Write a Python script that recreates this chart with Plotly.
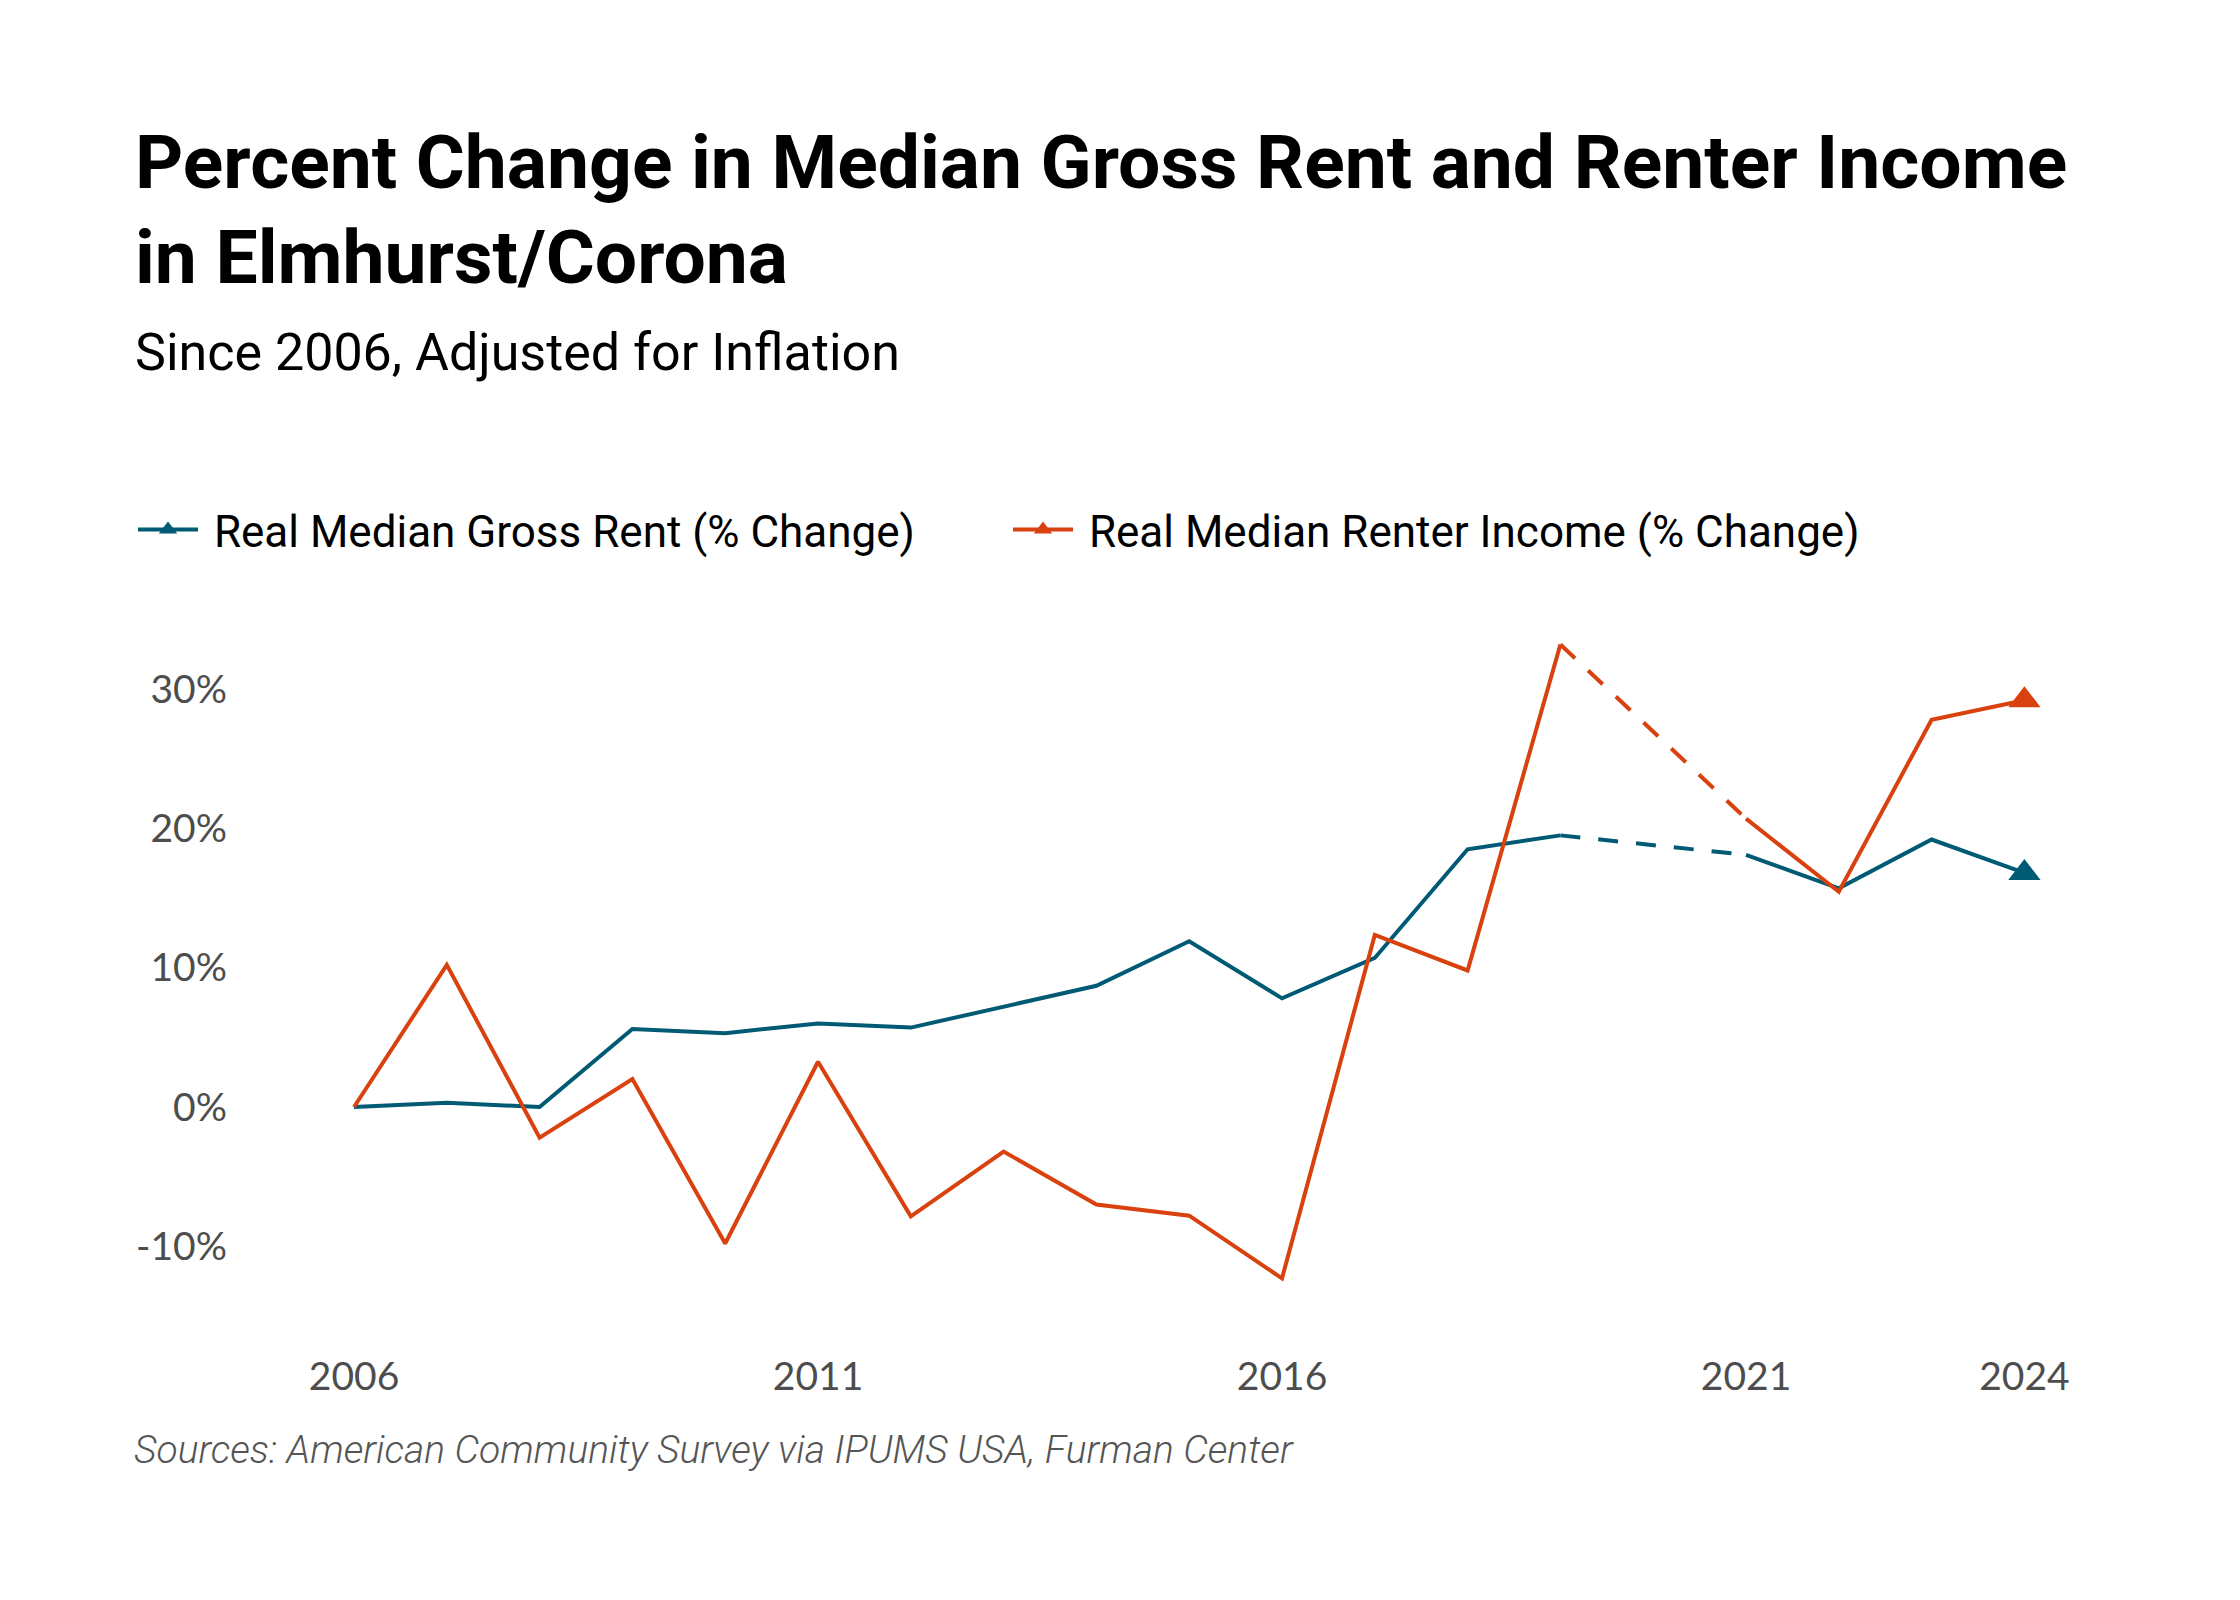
import plotly.graph_objects as go

# ---------------- data ----------------
years = [2006, 2007, 2008, 2009, 2010, 2011, 2012, 2013, 2014, 2015, 2016,
         2017, 2018, 2019, 2021, 2022, 2023, 2024]
rent_pct = [0.0, 0.3, 0.0, 5.6, 5.3, 6.0, 5.7, 7.2, 8.7, 11.9, 7.8,
            10.7, 18.5, 19.5, 18.1, 15.7, 19.2, 16.8]
income_pct = [0.0, 10.2, -2.2, 2.0, -9.8, 3.25, -7.85, -3.2, -7.0, -7.8, -12.3,
              12.35, 9.8, 33.2, 20.7, 15.45, 27.8, 29.2]

series_names = ["Real Median Gross Rent (% Change)", "Real Median Renter Income (% Change)"]
series_colors = ["#005a74", "#d9410f"]

x_tick_vals = [2006, 2011, 2016, 2021, 2024]
x_tick_text = ["2006", "2011", "2016", "2021", "2024"]
y_tick_vals = [-10, 0, 10, 20, 30]
y_tick_text = ["-10%", "0%", "10%", "20%", "30%"]

title_lines = ["Percent Change in Median Gross Rent and Renter Income", "in Elmhurst/Corona"]
subtitle = "Since 2006, Adjusted for Inflation"
source = "Sources: American Community Survey via IPUMS USA, Furman Center"

# ---------------- layout geometry (pixels) ----------------
W, H = 2240, 1600
OFF = 8                      # page body margin offset in the screenshot
PL, PR, PT, PB = 240, 2120, 600, 1345   # target plot-area edges in screenshot px
L = PL - OFF
T = PT - OFF
plot_w = PR - PL
plot_h = PB - PT
R = W - L - plot_w
B = H - T - plot_h

X0_PX, X_STEP = 354, 92.8    # screenshot px of 2006 and px per year
Y0_PX, Y_STEP = 1107, 13.93  # screenshot px of 0% and px per percentage point


def px_x(px):
    return (px - PL) / plot_w


def px_y(py):
    return (PB - py) / plot_h


def split_at_gap(xs, ys):
    gap = next(i for i in range(1, len(xs)) if xs[i] - xs[i - 1] > 1)
    sx = xs[:gap] + [xs[gap - 1] + 1] + xs[gap:]
    sy = ys[:gap] + [None] + ys[gap:]
    return sx, sy, xs[gap - 1:gap + 1], ys[gap - 1:gap + 1]


fig = go.Figure()
for name, vals, color in zip(series_names, [rent_pct, income_pct], series_colors):
    sx, sy, dx, dy = split_at_gap(years, vals)
    fig.add_trace(go.Scatter(x=sx, y=sy, mode="lines", connectgaps=False,
                             line=dict(color=color, width=4), showlegend=False,
                             legendgroup=name, hoverinfo="skip"))
    fig.add_trace(go.Scatter(x=dx, y=dy, mode="lines",
                             line=dict(color=color, width=4, dash="20px,18px"),
                             showlegend=False, legendgroup=name, hoverinfo="skip"))
    fig.add_trace(go.Scatter(x=[years[-1]], y=[vals[-1]], mode="lines+markers",
                             name="\u00a0" + name,
                             line=dict(color=color, width=4),
                             marker=dict(symbol="triangle-up", size=28, color=color),
                             legendgroup=name))

annotations = [
    dict(text="<b>%s</b>" % title_lines[0], x=px_x(133), y=px_y(162),
         font=dict(family="Roboto", size=75, color="#000000")),
    dict(text="<b>%s</b>" % title_lines[1], x=px_x(133), y=px_y(257),
         font=dict(family="Roboto", size=75, color="#000000")),
    dict(text=subtitle, x=px_x(133), y=px_y(352),
         font=dict(family="Roboto", size=52, color="#000000")),
    dict(text="<i>%s</i>" % source, x=px_x(132), y=px_y(1450),
         font=dict(family="Roboto", size=39, color="#555555", weight=300)),
]
for a in annotations:
    a.update(xref="paper", yref="paper", xanchor="left", yanchor="middle",
             showarrow=False, align="left")

fig.update_layout(
    width=W, height=H,
    margin=dict(l=L, r=R, t=T, b=B, pad=0),
    paper_bgcolor="white", plot_bgcolor="white",
    font=dict(family="Roboto", color="#000000"),
    annotations=annotations,
    showlegend=True,
    legend=dict(orientation="h", x=px_x(133), y=px_y(530), xanchor="left", yanchor="middle",
                font=dict(family="Roboto", size=44, color="#000000"),
                itemwidth=60, entrywidth=800, entrywidthmode="pixels",
                bgcolor="rgba(0,0,0,0)"),
    xaxis=dict(range=[2006 - (X0_PX - PL) / X_STEP, 2006 + (PR - X0_PX) / X_STEP],
               tickvals=x_tick_vals, ticktext=x_tick_text, showgrid=False,
               zeroline=False, showline=False, ticks="", ticklabelstandoff=5,
               tickfont=dict(family="Lato", size=39, color="#4d4d4d")),
    yaxis=dict(range=[-(PB - Y0_PX) / Y_STEP, (Y0_PX - PT) / Y_STEP],
               tickvals=y_tick_vals, ticktext=y_tick_text, showgrid=False,
               zeroline=False, showline=False, ticks="", ticklabelstandoff=12,
               tickfont=dict(family="Lato", size=39, color="#4d4d4d")),
)

fig.write_html("out.html")
